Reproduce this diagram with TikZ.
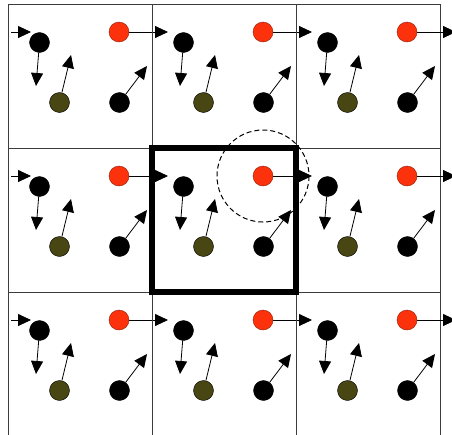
\documentclass[tikz,border=0pt]{standalone}
\usetikzlibrary{arrows.meta}
\definecolor{rojo}{RGB}{252,50,12}
\definecolor{oliva}{RGB}{72,70,18}
\definecolor{gris}{RGB}{60,60,60}
\begin{document}
\begin{tikzpicture}[x=1pt,y=-1pt,
    particula/.style={circle,draw=black,fill=black,inner sep=0pt,minimum size=20pt},
    vel/.style={-{Triangle[length=13pt,width=12pt]},line width=0.8pt},
    celda/.style={draw=gris,line width=0.9pt}]
  \clip (0,0) rectangle (452,434);
  \fill[white] (0,0) rectangle (452,434);
  % 3x3 periodic images
  \foreach \i in {0,1,2} \foreach \j in {0,1,2}{
    \begin{scope}[shift={(8+144*\i,4+144*\j)}]
      \draw[celda] (0,0) rectangle (144,144);
      \node[particula] (a\i\j) at (31.5,38.5) {};
      \node[particula,fill=oliva] (b\i\j) at (51.5,98.5) {};
      \node[particula] (c\i\j) at (111.5,98.5) {};
      \node[particula,draw=rojo!60!black,fill=rojo] (r\i\j) at (111,28) {};
      \coordinate (ta\i\j) at (28,82);
      \coordinate (tb\i\j) at (63,51);
      \coordinate (tc\i\j) at (139,62);
      \coordinate (tr\i\j) at (160,28);
      \draw[vel] (a\i\j) -- (ta\i\j);
      \draw[vel] (b\i\j) -- (tb\i\j);
      \draw[vel] (c\i\j) -- (tc\i\j);
      \draw[vel] (r\i\j) -- (tr\i\j);
      \ifnum\i=0
        \coordinate (e\j) at (3,28);
        \coordinate (te\j) at (23,28);
        \draw[vel] (e\j) -- (te\j);
      \fi
    \end{scope}
  }
  % central cell and cutoff
  \draw[line width=6.5pt] (152,148) rectangle (296,292);
  \draw[dash pattern=on 5pt off 3pt,line width=1pt] (r11.center) circle[radius=46];
\end{tikzpicture}
\end{document}
